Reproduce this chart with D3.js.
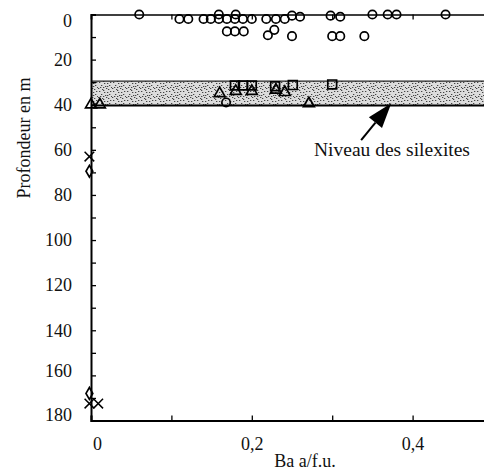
<!DOCTYPE html>
<html lang="fr">
<head>
  <meta charset="utf-8">
  <title>Ba a/f.u.</title>
  <script src="https://cdn.jsdelivr.net/npm/d3@7"></script>
  <style>
    body { margin: 0; background: #fff; }
    svg text { font-family: "Liberation Serif", serif; fill: #111; }
  </style>
</head>
<body>
  <script>
    // ticks
    var depthTicks = [0, 10, 20, 30, 40, 50, 60, 70, 80, 90, 100, 110, 120, 130, 140, 150, 160, 170, 180];
    var depthLabels = [0, 20, 40, 60, 80, 100, 120, 140, 160, 180];
    var baTicks = [0, 0.1, 0.2, 0.3, 0.4, 0.5];
    var baLabels = [0, 0.2, 0.4];

    // samples: [Ba a/f.u., profondeur m]
    var circles = [
      [0.060, 0], [0.159, 0], [0.180, 0], [0.250, 0.5], [0.260, 1], [0.298, 0.5], [0.310, 1],
      [0.350, 0], [0.369, 0], [0.380, 0], [0.441, 0],
      [0.110, 2], [0.121, 2], [0.140, 2], [0.149, 2], [0.159, 2], [0.169, 2], [0.179, 2],
      [0.189, 2], [0.200, 2], [0.218, 2], [0.230, 2], [0.241, 2],
      [0.169, 7.5], [0.179, 7.5], [0.190, 7.5], [0.228, 6.8],
      [0.220, 9.2], [0.250, 9.6], [0.300, 9.6], [0.310, 9.6], [0.340, 9.6],
      [0.168, 39]
    ];
    var triangles = [
      [0, 40], [0.011, 40], [0.160, 35], [0.180, 34], [0.200, 34], [0.230, 33.5], [0.241, 34.5], [0.271, 39.5]
    ];
    var squares = [
      [0.179, 31.5], [0.189, 31.5], [0.200, 31.5], [0.229, 31.8], [0.251, 31.3], [0.300, 31]
    ];
    var crosses = [
      [-0.002, 63], [-0.002, 172.5], [0.009, 172.5]
    ];
    var diamonds = [
      [-0.002, 69.5], [-0.002, 168]
    ];

    // niveau des silexites
    var bandTop = 29.5;
    var bandBottom = 40.3;
    var arrowTip = [0.3735, 39.4];
    var arrowTail = [0.336, 55.7];

    var w = 484, h = 472;

    var svg = d3.select("body").append("svg")
                .attr("width", w)
                .attr("height", h);

    var x = d3.scaleLinear().domain([0, 0.5]).range([91, 493]);
    var y = d3.scaleLinear().domain([0, 180]).range([14.5, 420.5]);

    // stippled pattern for the band
    var defs = svg.append("defs");
    var pat = defs.append("pattern")
                  .attr("id", "stipple")
                  .attr("patternUnits", "userSpaceOnUse")
                  .attr("width", 14)
                  .attr("height", 9);
    pat.append("rect").attr("width", 14).attr("height", 9).attr("fill", "#dcdcdc");
    var specks = [[1,1],[5,0],[9,2],[12,1],[3,4],[7,5],[11,4],[0,7],[4,8],[8,7],[13,6],[6,2],[10,8],[2,6],[9,5],[5,6]];
    pat.selectAll("rect.s").data(specks).enter().append("rect")
       .attr("class", "s")
       .attr("x", function(d) { return d[0]; })
       .attr("y", function(d) { return d[1]; })
       .attr("width", 1.3).attr("height", 1)
       .attr("fill", "#444");

    svg.append("rect")
       .attr("x", x(0))
       .attr("y", y(bandTop))
       .attr("width", w - x(0))
       .attr("height", y(bandBottom) - y(bandTop))
       .attr("fill", "url(#stipple)");
    svg.append("line")
       .attr("x1", x(0)).attr("x2", w)
       .attr("y1", y(bandTop)).attr("y2", y(bandTop))
       .attr("stroke", "#222").attr("stroke-width", 1.3);
    svg.append("line")
       .attr("x1", x(0)).attr("x2", w)
       .attr("y1", y(bandBottom)).attr("y2", y(bandBottom))
       .attr("stroke", "#000").attr("stroke-width", 2);

    // axes
    var yAxis = d3.axisLeft(y)
                  .tickValues(depthTicks)
                  .tickSize(-5)
                  .tickPadding(19)
                  .tickFormat(function(d) { return depthLabels.indexOf(d) >= 0 ? d : ""; });
    var gy = svg.append("g")
                .attr("transform", "translate(" + x(0) + ",0)")
                .call(yAxis);
    // labels sit a little off their ticks in the original at both ends
    var labelShift = { 0: 6, 160: -5, 180: -6 };
    gy.selectAll(".tick text")
      .attr("y", function(d) { return labelShift[d] || 0; });

    var xAxis = d3.axisBottom(x)
                  .tickValues(baTicks)
                  .tickSize(-5)
                  .tickPadding(17)
                  .tickFormat(function(d) {
                    return baLabels.indexOf(d) >= 0 ? String(d).replace(".", ",") : "";
                  });
    var gx = svg.append("g")
                .attr("transform", "translate(0," + y(180) + ")")
                .call(xAxis);
    gx.selectAll(".tick").filter(function(d) { return d === 0; })
      .select("text").attr("dx", 6);

    var xTop = d3.axisTop(x).tickValues(baTicks).tickSize(-5).tickFormat("");
    var gt = svg.append("g")
                .attr("transform", "translate(0," + y(0) + ")")
                .call(xTop);

    [gy, gx, gt].forEach(function(g) {
      g.attr("font-family", null);
      g.select(".domain").attr("stroke", "#000").attr("stroke-width", 2);
      g.selectAll(".tick line").attr("stroke", "#000").attr("stroke-width", 1.3);
      g.selectAll(".tick text").attr("font-size", 18).attr("fill", "#111");
    });
    gt.select(".domain").attr("stroke-width", 1.6);

    svg.append("text")
       .attr("transform", "translate(30," + 138 + ") rotate(-90)")
       .attr("text-anchor", "middle")
       .attr("font-size", 18)
       .text("Profondeur en m");
    svg.append("text")
       .attr("x", 305)
       .attr("y", 467)
       .attr("text-anchor", "middle")
       .attr("font-size", 18)
       .text("Ba a/f.u.");

    // markers
    var marks = svg.append("g")
                   .attr("fill", "none")
                   .attr("stroke", "#000")
                   .attr("stroke-width", 1.7);

    marks.selectAll(".circ").data(circles).enter().append("circle")
         .attr("class", "circ")
         .attr("cx", function(d) { return x(d[0]); })
         .attr("cy", function(d) { return y(d[1]); })
         .attr("r", 4.2);

    var tri = d3.symbol().type(d3.symbolTriangle).size(52);
    marks.selectAll(".tri").data(triangles).enter().append("path")
         .attr("class", "tri")
         .attr("d", tri)
         .attr("transform", function(d) { return "translate(" + x(d[0]) + "," + y(d[1]) + ")"; });

    var sq = d3.symbol().type(d3.symbolSquare).size(78);
    marks.selectAll(".sq").data(squares).enter().append("path")
         .attr("class", "sq")
         .attr("d", sq)
         .attr("transform", function(d) { return "translate(" + x(d[0]) + "," + y(d[1]) + ")"; });

    var dia = d3.symbol().type(d3.symbolDiamond).size(40);
    marks.selectAll(".dia").data(diamonds).enter().append("path")
         .attr("class", "dia")
         .attr("d", dia)
         .attr("transform", function(d) { return "translate(" + x(d[0]) + "," + y(d[1]) + ")"; });

    marks.selectAll(".cross").data(crosses).enter().append("path")
         .attr("class", "cross")
         .attr("d", function(d) {
           var cx = x(d[0]), cy = y(d[1]), s = 4.8;
           return "M" + (cx - s) + "," + (cy - s) + "L" + (cx + s) + "," + (cy + s) +
                  "M" + (cx - s) + "," + (cy + s) + "L" + (cx + s) + "," + (cy - s);
         })
         .attr("stroke-width", 1.5);

    // annotation arrow
    var tx = x(arrowTip[0]), ty = y(arrowTip[1]);
    var bx = x(arrowTail[0]), by = y(arrowTail[1]);
    var ang = Math.atan2(ty - by, tx - bx);
    var headLen = 25, headHalf = 8.5;
    var hx = tx - headLen * Math.cos(ang), hy = ty - headLen * Math.sin(ang);
    var px = -Math.sin(ang), py = Math.cos(ang);
    svg.append("line")
       .attr("x1", bx).attr("y1", by)
       .attr("x2", hx).attr("y2", hy)
       .attr("stroke", "#000").attr("stroke-width", 2);
    svg.append("path")
       .attr("d", "M" + tx + "," + ty +
                  "L" + (hx + px * headHalf) + "," + (hy + py * headHalf) +
                  "L" + (hx - px * headHalf) + "," + (hy - py * headHalf) + "Z")
       .attr("fill", "#000");

    svg.append("text")
       .attr("x", 314)
       .attr("y", 156)
       .attr("font-size", 19.5)
       .text("Niveau des silexites");
  </script>
</body>
</html>
